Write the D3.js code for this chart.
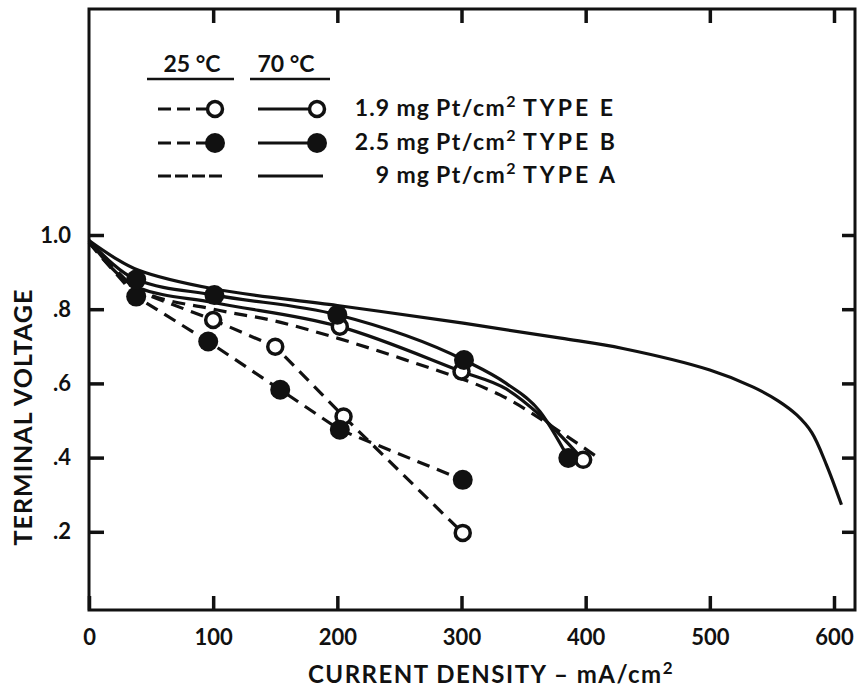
<!DOCTYPE html>
<html>
<head>
<meta charset="utf-8">
<script src="https://cdn.jsdelivr.net/npm/d3@7"></script>
<style>
  html, body { margin: 0; padding: 0; background: #fff; }
  svg { display: block; }
</style>
</head>
<body>
<div id="chart"></div>
<script>
// Terminal voltage vs current density, Pt loadings at 25 C and 70 C
// [current density mA/cm2, terminal voltage]

const xTicks = [0, 100, 200, 300, 400, 500, 600];
const yTicks = [0.2, 0.4, 0.6, 0.8, 1.0];

// 70 C curves (solid)
const a70Curve = [[0, 0.985], [20, 0.94], [40, 0.905], [100, 0.855], [200, 0.81], [300, 0.763],
  [380, 0.722], [430, 0.694], [500, 0.636], [535, 0.59], [555, 0.553], [570, 0.515], [582, 0.468],
  [594, 0.38], [606, 0.273]];
const b70Curve = [[0, 0.985], [38, 0.88], [101, 0.838], [200, 0.785], [302, 0.663], [336, 0.60], [363, 0.525], [386, 0.399]];
const e70Curve = [[0, 0.985], [38, 0.86], [100, 0.818], [202, 0.753], [300, 0.632], [336, 0.585], [363, 0.515], [398, 0.394]];

// 25 C curves (dashed)
const a25Curve = [[0, 0.98], [38, 0.855], [100, 0.80], [150, 0.768], [200, 0.722], [258, 0.66], [283, 0.632],
  [313, 0.596], [331, 0.569], [385, 0.457], [410, 0.40]];
const b25Curve = [[0, 0.98], [38, 0.834], [96, 0.713], [154, 0.583], [202, 0.475], [301, 0.34]];
const e25Curve = [[0, 0.98], [38, 0.85], [100, 0.771], [150, 0.699], [205, 0.511], [301, 0.197]];

// measured points (markers)
const b70Points = [[38, 0.88], [101, 0.838], [200, 0.785], [302, 0.663], [386, 0.399]];
const e70Points = [[202, 0.753], [300, 0.632], [398, 0.394]];
const b25Points = [[38, 0.834], [96, 0.713], [154, 0.583], [202, 0.475], [301, 0.34]];
const e25Points = [[100, 0.771], [150, 0.699], [205, 0.511], [301, 0.197]];

// legend rows: loading, type
const legendLoad = ["1.9", "2.5", "9"];
const legendType = ["TYPE E", "TYPE B", "TYPE A"];
const legendMarker = ["open", "filled", "none"];

const width = 857, height = 688;
const frame = { left: 89, right: 855, top: 9, bottom: 610 };
const font = "Lato, 'Open Sans', sans-serif";
const ink = "#111";

const svg = d3.select("#chart").append("svg")
  .attr("width", width)
  .attr("height", height)
  .attr("viewBox", [0, 0, width, height]);

const x = d3.scaleLinear().domain([0, 600]).range([89, 834]);
const y = d3.scaleLinear().domain([0, 1]).range([606, 235]);

// frame
svg.append("rect")
  .attr("x", frame.left).attr("y", frame.top)
  .attr("width", frame.right - frame.left)
  .attr("height", frame.bottom - frame.top)
  .attr("fill", "none").attr("stroke", ink).attr("stroke-width", 3);

const yFmt = d => d === 1 ? "1.0" : d3.format(".1f")(d).replace(/^0/, "");

function styleAxis(g) {
  g.select(".domain").remove();
  g.selectAll(".tick line").attr("stroke", ink).attr("stroke-width", 3.5);
  g.attr("font-family", font).attr("font-size", 22).attr("font-weight", 700);
  g.selectAll(".tick text").attr("fill", ink);
}

svg.append("g")
  .attr("transform", `translate(0,${frame.bottom})`)
  .call(d3.axisBottom(x).tickValues(xTicks).tickSize(-14).tickPadding(19).tickFormat(d3.format("d")))
  .call(styleAxis);

svg.append("g")
  .attr("transform", `translate(0,${frame.top})`)
  .call(d3.axisTop(x).tickValues(xTicks.slice(1)).tickSize(-14).tickFormat(""))
  .call(styleAxis);

svg.append("g")
  .attr("transform", `translate(${frame.left},0)`)
  .call(d3.axisLeft(y).tickValues(yTicks).tickSize(-15).tickPadding(18).tickFormat(yFmt))
  .call(styleAxis);

svg.append("g")
  .attr("transform", `translate(${frame.right},0)`)
  .call(d3.axisRight(y).tickValues(yTicks).tickSize(-13).tickFormat(""))
  .call(styleAxis);

// axis titles
svg.append("text")
  .attr("transform", "translate(32,417) rotate(-90)")
  .attr("text-anchor", "middle")
  .attr("font-family", font).attr("font-size", 25).attr("font-weight", 700)
  .attr("letter-spacing", 1)
  .attr("fill", ink)
  .text("TERMINAL VOLTAGE");

const xTitle = svg.append("text")
  .attr("x", 491).attr("y", 683)
  .attr("text-anchor", "middle")
  .attr("font-family", font).attr("font-size", 24).attr("font-weight", 700)
  .attr("letter-spacing", 1.5)
  .attr("fill", ink);
xTitle.append("tspan").text("CURRENT DENSITY \u2013 mA/cm");
xTitle.append("tspan").attr("dy", -9).attr("font-size", 17).text("2");

// curves
const lineSmooth = d3.line().x(d => x(d[0])).y(d => y(d[1])).curve(d3.curveMonotoneX);
const lineRound = d3.line().x(d => x(d[0])).y(d => y(d[1])).curve(d3.curveCatmullRom.alpha(0.5));
const lineStraight = d3.line().x(d => x(d[0])).y(d => y(d[1]));

const curves = [
  { data: a25Curve, dash: "13,8", gen: lineSmooth },
  { data: b25Curve, dash: "13,8", gen: lineStraight },
  { data: e25Curve, dash: "13,8", gen: lineStraight },
  { data: a70Curve, dash: null, gen: lineRound },
  { data: b70Curve, dash: null, gen: lineSmooth },
  { data: e70Curve, dash: null, gen: lineSmooth }
];

svg.append("g")
  .selectAll("path")
  .data(curves)
  .join("path")
  .attr("d", d => d.gen(d.data))
  .attr("fill", "none")
  .attr("stroke", ink)
  .attr("stroke-width", 3.2)
  .attr("stroke-dasharray", d => d.dash);

// markers: open first, filled on top
function openDots(pts) {
  svg.append("g").selectAll("circle").data(pts).join("circle")
    .attr("cx", d => x(d[0])).attr("cy", d => y(d[1]))
    .attr("r", 7.5).attr("fill", "#fff").attr("stroke", ink).attr("stroke-width", 3.5);
}
function filledDots(pts) {
  svg.append("g").selectAll("circle").data(pts).join("circle")
    .attr("cx", d => x(d[0])).attr("cy", d => y(d[1]))
    .attr("r", 10).attr("fill", ink);
}
openDots(e25Points);
openDots(e70Points);
filledDots(b25Points);
filledDots(b70Points);

// legend
const leg = svg.append("g")
  .attr("font-family", font).attr("font-weight", 700).attr("fill", ink);

leg.append("text").attr("x", 192).attr("y", 72).attr("text-anchor", "middle")
  .attr("font-size", 23).text("25 \u00b0C");
leg.append("text").attr("x", 286).attr("y", 72).attr("text-anchor", "middle")
  .attr("font-size", 23).text("70 \u00b0C");
leg.append("line").attr("x1", 147).attr("x2", 234).attr("y1", 79).attr("y2", 79)
  .attr("stroke", ink).attr("stroke-width", 2.5);
leg.append("line").attr("x1", 250).attr("x2", 330).attr("y1", 79).attr("y2", 79)
  .attr("stroke", ink).attr("stroke-width", 2.5);

const rowY = [109, 143, 176];
legendLoad.forEach((load, i) => {
  const cy = rowY[i];
  const m = legendMarker[i];
  const dashEnd = m === "none" ? 222 : 206;
  const solidEnd = m === "none" ? 323 : 310;
  leg.append("line").attr("x1", 158).attr("x2", dashEnd).attr("y1", cy).attr("y2", cy)
    .attr("stroke", ink).attr("stroke-width", 3).attr("stroke-dasharray", m === "none" ? "13,4" : "13,6");
  leg.append("line").attr("x1", 258).attr("x2", solidEnd).attr("y1", cy).attr("y2", cy)
    .attr("stroke", ink).attr("stroke-width", 3);
  [215, 317].forEach(cx => {
    if (m === "open") {
      leg.append("circle").attr("cx", cx).attr("cy", cy).attr("r", 7.5)
        .attr("fill", "#fff").attr("stroke", ink).attr("stroke-width", 3.5);
    } else if (m === "filled") {
      leg.append("circle").attr("cx", cx).attr("cy", cy).attr("r", 10).attr("fill", ink);
    }
  });
  leg.append("text").attr("x", 430).attr("y", cy + 7).attr("text-anchor", "end")
    .attr("font-size", 23).attr("letter-spacing", 1).text(load + " mg");
  const t = leg.append("text").attr("x", 436).attr("y", cy + 7)
    .attr("font-size", 23).attr("letter-spacing", 1.5);
  t.append("tspan").text("Pt/cm");
  t.append("tspan").attr("dy", -9).attr("font-size", 16).text("2");
  t.append("tspan").attr("x", 523).attr("dy", 9).attr("letter-spacing", 3).text(legendType[i]);
});
</script>
</body>
</html>
